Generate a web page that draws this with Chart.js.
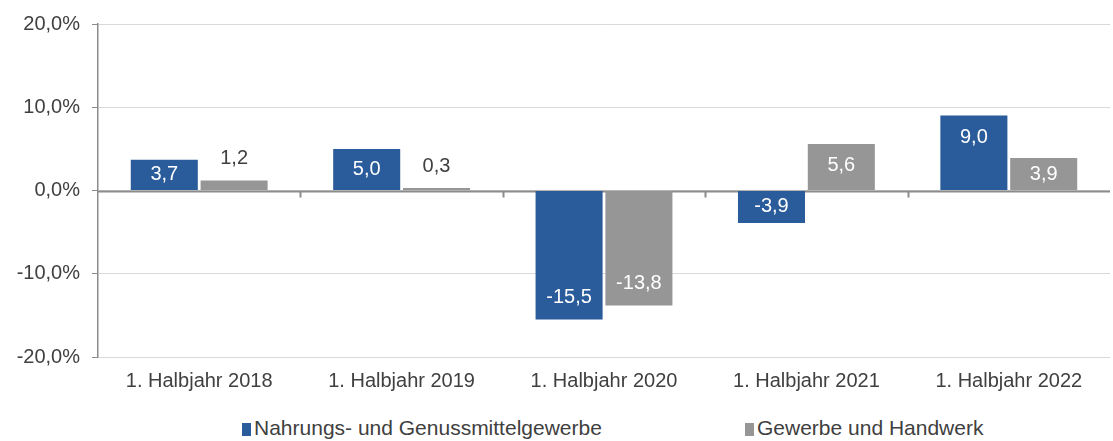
<!DOCTYPE html>
<html lang="de">
<head>
<meta charset="utf-8">
<title>Halbjahr Vergleich</title>
<script src="https://cdn.jsdelivr.net/npm/chart.js@4/dist/chart.umd.min.js"></script>
<style>
    html, body { margin: 0; padding: 0; background: #fff; }
    #wrap { position: relative; width: 1113px; height: 441px; }
    #chart { display: block; }
    .legend-item {
        position: absolute;
        top: 416px;
        font: 21px "Liberation Sans", Arial, sans-serif;
        color: #404040;
        white-space: nowrap;
        line-height: 24px;
    }
    .legend-item span.box {
        display: inline-block;
        width: 9px;
        height: 13px;
        margin-right: 3px;
        vertical-align: -1px;
    }
</style>
</head>
<body>
<div id="wrap">
    <canvas id="chart" width="1113" height="397"></canvas>
    <div id="legend"></div>
</div>
<script>
// Chart data
const categories = ['1. Halbjahr 2018', '1. Halbjahr 2019', '1. Halbjahr 2020', '1. Halbjahr 2021', '1. Halbjahr 2022'];
const seriesNames = ['Nahrungs- und Genussmittelgewerbe', 'Gewerbe und Handwerk'];
const nahrungValues = [3.7, 5.0, -15.5, -3.9, 9.0];
const gewerbeValues = [1.2, 0.3, -13.8, 5.6, 3.9];
const yTicks = [-20, -10, 0, 10, 20];

const BLUE = '#2a5b9a';
const GRAY = '#969696';
const AXIS = '#8c8c8c';
const TEXT = '#404040';
const FONT = '"Liberation Sans", Arial, sans-serif';

function fmt(v) {
    return v.toFixed(1).replace('.', ',');
}

// zero line + small ticks between the categories
const zeroAxisPlugin = {
    id: 'zeroAxis',
    beforeDatasetsDraw(chart) {
        const { ctx, chartArea, scales } = chart;
        const y0 = Math.round(scales.y.getPixelForValue(0)) + 0.5;
        ctx.save();
        ctx.strokeStyle = AXIS;
        ctx.lineWidth = 2;
        ctx.beginPath();
        ctx.moveTo(chartArea.left, y0);
        ctx.lineTo(chartArea.right, y0);
        for (let i = 0; i < categories.length - 1; i++) {
            const x = Math.round((scales.x.getPixelForValue(i) + scales.x.getPixelForValue(i + 1)) / 2) + 0.5;
            ctx.moveTo(x, y0);
            ctx.lineTo(x, y0 + 6);
        }
        ctx.stroke();
        ctx.restore();
    }
};

// value labels, inside the bar end if there is room, otherwise above
const valueLabelPlugin = {
    id: 'valueLabels',
    afterDatasetsDraw(chart) {
        const { ctx } = chart;
        ctx.save();
        ctx.font = '20px ' + FONT;
        ctx.textAlign = 'center';
        ctx.textBaseline = 'middle';
        chart.data.datasets.forEach((ds, di) => {
            const meta = chart.getDatasetMeta(di);
            meta.data.forEach((bar, i) => {
                const v = ds.data[i];
                const h = Math.abs(bar.base - bar.y);
                const dir = v >= 0 ? 1 : -1;
                let y;
                if (h > 25) {
                    ctx.fillStyle = '#ffffff';
                    y = bar.y + dir * Math.min(22, h / 2);
                } else {
                    ctx.fillStyle = TEXT;
                    y = bar.y - dir * 22;
                }
                ctx.fillText(fmt(v), bar.x, y);
            });
        });
        ctx.restore();
    }
};

function buildLegend() {
    const legend = document.getElementById('legend');
    const colors = [BLUE, GRAY];
    const lefts = [242, 745];
    seriesNames.forEach((name, i) => {
        const item = document.createElement('div');
        item.className = 'legend-item';
        item.style.left = lefts[i] + 'px';
        item.innerHTML = `<span class="box" style="background:${colors[i]}"></span>${name}`;
        legend.appendChild(item);
    });
}

new Chart(document.getElementById('chart'), {
    type: 'bar',
    data: {
        labels: categories,
        datasets: [{
            label: seriesNames[0],
            data: nahrungValues,
            backgroundColor: BLUE,
            categoryPercentage: 0.69,
            barPercentage: 0.96
        }, {
            label: seriesNames[1],
            data: gewerbeValues,
            backgroundColor: GRAY,
            categoryPercentage: 0.69,
            barPercentage: 0.96
        }]
    },
    options: {
        responsive: false,
        animation: false,
        layout: { padding: { top: 12, right: 3, bottom: 0, left: 0 } },
        plugins: {
            legend: { display: false },
            tooltip: { enabled: false }
        },
        scales: {
            x: {
                grid: { display: false },
                border: { display: false },
                ticks: { color: TEXT, font: { family: FONT, size: 20 }, padding: 4 }
            },
            y: {
                min: -20,
                max: 20,
                afterBuildTicks: scale => { scale.ticks = yTicks.map(v => ({ value: v })); },
                afterFit: scale => { scale.width = 98; },
                grid: { color: '#d9d9d9', tickColor: AXIS, tickLength: 6, lineWidth: 1 },
                border: { color: AXIS, width: 1.5 },
                ticks: {
                    color: TEXT,
                    font: { family: FONT, size: 20 },
                    padding: 12,
                    callback: v => fmt(v) + '%'
                }
            }
        }
    },
    plugins: [zeroAxisPlugin, valueLabelPlugin]
});

buildLegend();
</script>
</body>
</html>
